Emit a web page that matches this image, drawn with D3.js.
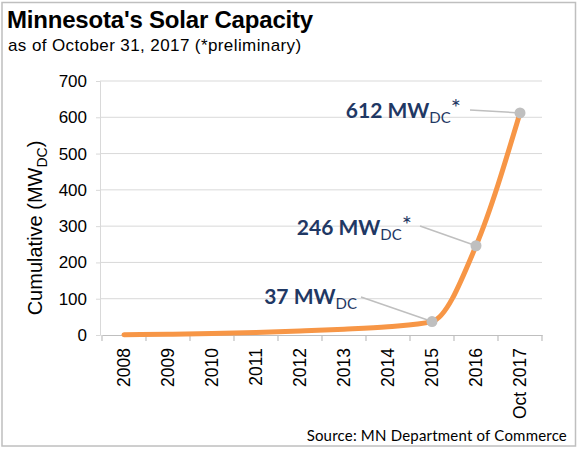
<!DOCTYPE html>
<html>
<head>
<meta charset="utf-8">
<script src="https://cdn.jsdelivr.net/npm/d3@7"></script>
<style>
  body { margin: 0; background: #fff; }
  svg { display: block; }
</style>
</head>
<body>
<div id="chart"></div>
<script>
// Data
const years = ['2008', '2009', '2010', '2011', '2012', '2013', '2014', '2015', '2016', 'Oct 2017'];
const capacity = [1, 2, 4, 7, 11, 16, 23, 37, 246, 612];
const yTicks = [0, 100, 200, 300, 400, 500, 600, 700];
const callouts = [
  { year: '2015', value: 37, text: '37 MW', star: false, tx: 357, ty: 304, lx: 361, ly: 297 },
  { year: '2016', value: 246, text: '246 MW', star: true, tx: 412, ty: 235, lx: 420, ly: 226 },
  { year: 'Oct 2017', value: 612, text: '612 MW', star: true, tx: 461, ty: 118, lx: 470, ly: 110 }
];

const width = 579, height = 449;
const margin = { top: 81, right: 37, bottom: 114, left: 102 };

const svg = d3.select('#chart').append('svg')
  .attr('width', width)
  .attr('height', height);

// Outer frame
svg.append('rect')
  .attr('x', 2).attr('y', 2.5)
  .attr('width', 573.5).attr('height', 443.5)
  .attr('fill', 'none')
  .attr('stroke', '#bfbfbf')
  .attr('stroke-width', 1.5);

const x = d3.scaleBand()
  .domain(years)
  .range([margin.left, width - margin.right]);

const y = d3.scaleLinear()
  .domain([0, 700])
  .range([height - margin.bottom, margin.top]);

// Gridlines
svg.append('g')
  .selectAll('line')
  .data(yTicks.slice(1))
  .enter().append('line')
  .attr('x1', margin.left - 2)
  .attr('x2', width - margin.right)
  .attr('y1', d => y(d))
  .attr('y2', d => y(d))
  .attr('stroke', '#d9d9d9')
  .attr('stroke-width', 1);

// Y axis
const yAxis = svg.append('g')
  .attr('transform', `translate(${margin.left - 2},0)`)
  .call(d3.axisLeft(y).tickValues(yTicks).tickSize(4).tickPadding(9));
yAxis.select('.domain').attr('stroke', '#d9d9d9');
yAxis.selectAll('.tick line').attr('stroke', '#d9d9d9');
yAxis.selectAll('text')
  .attr('fill', '#000')
  .style('font-family', 'Liberation Sans, Arial, sans-serif')
  .style('font-size', '17px');

// X axis
const xAxis = svg.append('g')
  .attr('transform', `translate(0,${y(0)})`)
  .call(d3.axisBottom(x).tickSize(0).tickPadding(0));
xAxis.select('.domain').attr('stroke', '#bfbfbf').attr('stroke-width', 1.2);
xAxis.selectAll('.tick line').remove();
xAxis.selectAll('text')
  .attr('transform', 'rotate(-90)')
  .attr('x', -13)
  .attr('y', 0)
  .attr('dy', '0.35em')
  .attr('text-anchor', 'end')
  .attr('fill', '#000')
  .style('font-family', 'Liberation Sans, Arial, sans-serif')
  .style('font-size', '17.5px');

// Tick marks at band boundaries
svg.append('g')
  .selectAll('line')
  .data(years.concat(['end']))
  .enter().append('line')
  .attr('x1', (d, i) => margin.left + i * x.step())
  .attr('x2', (d, i) => margin.left + i * x.step())
  .attr('y1', y(0))
  .attr('y2', y(0) + 6)
  .attr('stroke', '#bfbfbf')
  .attr('stroke-width', 1.2);

// Line
const points = years.map((d, i) => ({ year: d, value: capacity[i] }));
const line = d3.line()
  .x(d => x(d.year) + x.bandwidth() / 2)
  .y(d => y(d.value))
  .curve(d3.curveMonotoneX);

// Leader lines
svg.append('g')
  .selectAll('line')
  .data(callouts)
  .enter().append('line')
  .attr('x1', d => d.lx)
  .attr('y1', d => d.ly)
  .attr('x2', d => x(d.year) + x.bandwidth() / 2)
  .attr('y2', d => y(d.value))
  .attr('stroke', '#bfbfbf')
  .attr('stroke-width', 1.5);

svg.append('path')
  .datum(points)
  .attr('d', line)
  .attr('fill', 'none')
  .attr('stroke', '#f79646')
  .attr('stroke-width', 5)
  .attr('stroke-linecap', 'round');

// Markers
svg.append('g')
  .selectAll('circle')
  .data(callouts)
  .enter().append('circle')
  .attr('cx', d => x(d.year) + x.bandwidth() / 2)
  .attr('cy', d => y(d.value))
  .attr('r', 5.5)
  .attr('fill', '#bfbfbf');

// Callout labels
const label = svg.append('g')
  .selectAll('text')
  .data(callouts)
  .enter().append('text')
  .attr('x', d => d.tx)
  .attr('y', d => d.ty)
  .attr('text-anchor', 'end')
  .attr('fill', '#1f3864')
  .style('font-family', 'Lato, sans-serif')
  .style('font-weight', 'bold')
  .style('font-size', '21px');
label.append('tspan').text(d => d.text);
label.append('tspan')
  .attr('dy', 5)
  .style('font-size', '15px')
  .style('font-weight', 'normal')
  .text('DC');
label.append('tspan')
  .attr('dy', -7)
  .style('font-size', '24px')
  .style('font-weight', 'normal')
  .text(d => d.star ? '*' : '');

// Y axis title
const yTitle = svg.append('text')
  .attr('transform', `translate(42,${(y(0) + y(700)) / 2 + 20}) rotate(-90)`)
  .attr('text-anchor', 'middle')
  .attr('fill', '#000')
  .style('font-family', 'Liberation Sans, Arial, sans-serif')
  .style('font-size', '20px');
yTitle.append('tspan').text('Cumulative (MW');
yTitle.append('tspan').attr('dy', 5).style('font-size', '14px').text('DC');
yTitle.append('tspan').attr('dy', -5).text(')');

// Title and subtitle
svg.append('text')
  .attr('x', 7).attr('y', 28)
  .attr('fill', '#000')
  .style('font-family', 'Liberation Sans, Arial, sans-serif')
  .style('font-weight', 'bold')
  .style('font-size', '24px')
  .style('letter-spacing', '-0.2px')
  .text("Minnesota's Solar Capacity");

svg.append('text')
  .attr('x', 8).attr('y', 51)
  .attr('fill', '#000')
  .style('font-family', 'Liberation Sans, Arial, sans-serif')
  .style('font-size', '17px')
  .style('letter-spacing', '0.4px')
  .text('as of October 31, 2017 (*preliminary)');

// Source
svg.append('text')
  .attr('x', 567).attr('y', 441)
  .attr('text-anchor', 'end')
  .attr('fill', '#000')
  .style('font-family', 'Lato, sans-serif')
  .style('font-size', '15px')
  .style('letter-spacing', '0.2px')
  .text('Source: MN Department of Commerce');
</script>
</body>
</html>
